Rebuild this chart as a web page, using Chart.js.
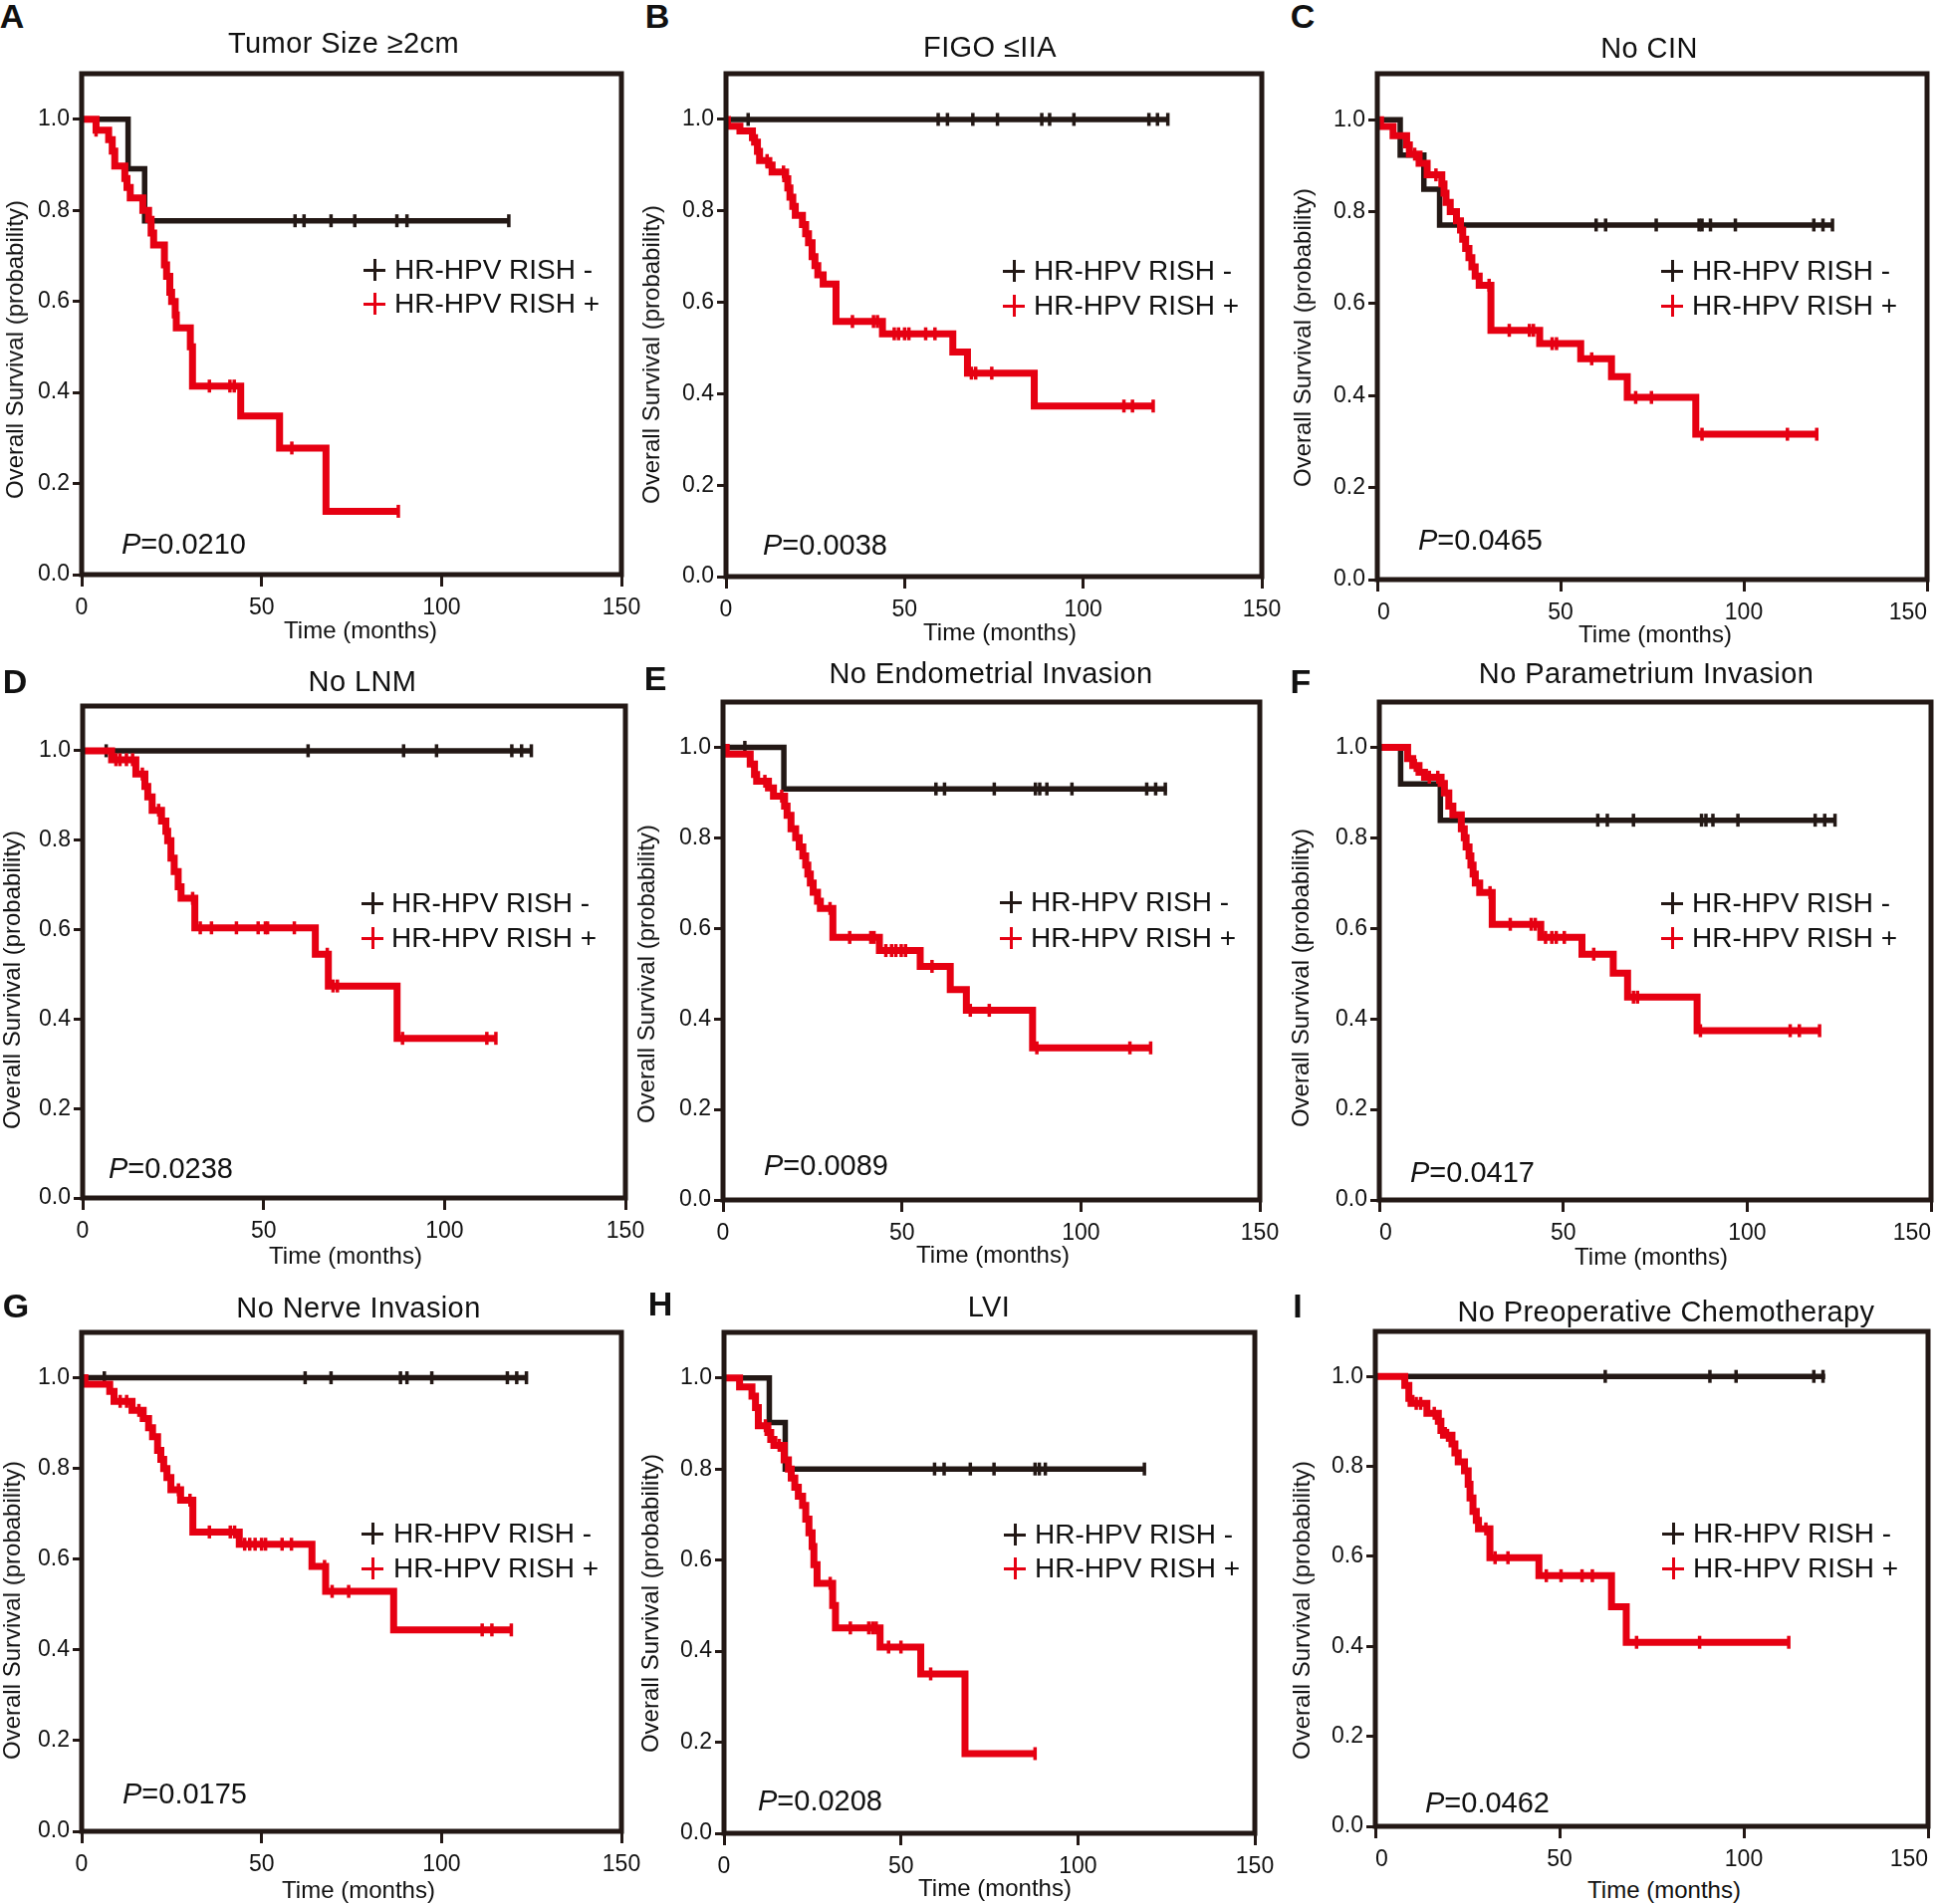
<!DOCTYPE html>
<html>
<head>
<meta charset="utf-8">
<script src="https://cdn.jsdelivr.net/npm/chart.js@4.4.1/dist/chart.umd.min.js"></script>
<style>
html, body { margin: 0; padding: 0; background: #fff; overflow: hidden; }
body { width: 1946px; height: 1912px; position: relative; font-family: "Liberation Sans", Arial, sans-serif; color: #111; }
canvas { position: absolute; }
.txt { position: absolute; white-space: nowrap; line-height: 1; }
.letter { font-weight: bold; font-size: 34px; transform: translate(-50%, -50%); }
.title { font-size: 29px; letter-spacing: 0.4px; transform: translate(-50%, -50%); }
.ytitle { font-size: 24px; transform: translate(-50%, -50%) rotate(-90deg); }
.xtitle { font-size: 24px; transform: translate(-50%, -50%); }
.leg { font-size: 28px; transform: translateY(-50%); }
.pval { font-size: 29px; transform: translateY(-50%); }
.plus { position: absolute; width: 22px; height: 22px; transform: translate(-50%, -50%); }
.plus::before, .plus::after { content: ''; position: absolute; background: currentColor; }
.plus::before { left: 0; right: 0; top: 10px; height: 2.5px; }
.plus::after { top: 0; bottom: 0; left: 10px; width: 2.5px; }
</style>
</head>
<body>
<script>
// ---- data: step times (months), survival, censor times ----
// "Neg" = HR-HPV RISH -, "Pos" = HR-HPV RISH +

// A  Tumor Size >=2cm
const aNegT = [0, 12.9, 17.5, 118.7];
const aNegS = [1.0, 0.891, 0.777, 0.777];
const aNegC = [59.3, 61.8, 69.3, 75.9, 87.6, 90.4, 118.7];
const aPosT = [0, 4, 7.5, 8.5, 9.2, 12, 12.6, 13.5, 17, 18.6, 19.3, 20, 23, 23.6, 24.5, 25, 26, 26.3, 30.2, 30.8, 44.2, 55, 67.9, 88];
const aPosS = [1.0, 0.976, 0.955, 0.93, 0.897, 0.87, 0.85, 0.827, 0.80, 0.78, 0.75, 0.724, 0.68, 0.655, 0.62, 0.60, 0.57, 0.542, 0.50, 0.414, 0.348, 0.278, 0.139, 0.139];
const aPosC = [4, 35.5, 41.2, 42.4, 58.4, 88];

// B  FIGO <=IIA
const bNegT = [0, 123.9];
const bNegS = [1.0, 1.0];
const bNegC = [6.2, 59.4, 62, 69.1, 76, 88.4, 90.6, 97.4, 118.4, 120.8, 123.7];
const bPosT = [0, 0.4, 3.9, 7.4, 8.0, 8.8, 9.4, 12.0, 12.9, 16.7, 17.3, 17.9, 18.7, 19.4, 21.4, 22.3, 23.1, 24.1, 24.9, 25.7, 27.2, 30.8, 43.8, 63.5, 67.6, 86.3, 119.6];
const bPosS = [1.0, 0.985, 0.975, 0.96, 0.95, 0.93, 0.91, 0.90, 0.885, 0.87, 0.85, 0.83, 0.81, 0.79, 0.77, 0.75, 0.73, 0.70, 0.68, 0.66, 0.64, 0.558, 0.531, 0.491, 0.445, 0.373, 0.373];
const bPosC = [11.5, 16.1, 35.4, 41.3, 42.4, 47.1, 48.3, 50.0, 51.2, 55.9, 58.5, 68.7, 69.9, 74.4, 111.4, 113.8, 119.6];

// C  No CIN
const cNegT = [0, 6.25, 12.7, 17.0, 124.4];
const cNegS = [1.0, 0.923, 0.849, 0.771, 0.771];
const cNegC = [59.7, 62.3, 76.1, 87.8, 88.6, 90.9, 97.7, 119.1, 121.6, 124.2];
const cPosT = [0, 0.9, 4.3, 8.0, 8.75, 11.4, 13.6, 17.6, 18.2, 18.75, 19.9, 21.6, 22.7, 23.3, 24.1, 25.0, 25.8, 26.7, 27.8, 31.0, 44.3, 55.5, 63.9, 68.2, 86.9, 119.9];
const cPosS = [1.0, 0.985, 0.965, 0.945, 0.925, 0.905, 0.88, 0.86, 0.84, 0.82, 0.80, 0.78, 0.76, 0.74, 0.72, 0.70, 0.68, 0.66, 0.64, 0.542, 0.513, 0.48, 0.441, 0.396, 0.316, 0.316];
const cPosC = [10.2, 16.0, 30.5, 36.0, 41.5, 42.6, 47.7, 48.9, 58.5, 70.5, 74.8, 88.6, 111.9, 119.9];

// D  No LNM
const dNegT = [0, 124.3];
const dNegS = [1.0, 1.0];
const dNegC = [6.5, 62.3, 88.7, 97.8, 118.6, 121.3, 124.0];
const dPosT = [0, 8.0, 14.7, 17.2, 18.0, 19.2, 21.8, 23.0, 23.5, 24.4, 25.3, 26.4, 27.2, 31.0, 64.3, 67.9, 86.9, 114.2];
const dPosS = [1.0, 0.98, 0.948, 0.92, 0.897, 0.867, 0.843, 0.82, 0.799, 0.76, 0.73, 0.696, 0.67, 0.604, 0.545, 0.474, 0.357, 0.357];
const dPosC = [9.2, 10.3, 12.1, 13.8, 16.5, 21.0, 30.4, 32.5, 35.6, 42.5, 48.5, 50.5, 51.1, 58.5, 67.6, 69.2, 70.4, 88.4, 111.7, 114.2];

// E  No Endometrial Invasion
const eNegT = [0, 17.0, 124.0];
const eNegS = [1.0, 0.908, 0.908];
const eNegC = [6.1, 59.5, 61.9, 75.8, 87.3, 88.5, 90.5, 97.5, 118.4, 120.9, 123.6];
const ePosT = [0, 0.9, 7.6, 8.8, 9.4, 12.7, 14.1, 17.2, 17.9, 19.0, 20.3, 21.3, 22.3, 23.1, 23.7, 24.4, 25.2, 26.4, 27.2, 30.7, 43.7, 55.1, 63.5, 68.0, 86.5, 119.8];
const ePosS = [1.0, 0.985, 0.963, 0.94, 0.925, 0.91, 0.892, 0.87, 0.85, 0.82, 0.80, 0.78, 0.76, 0.74, 0.72, 0.70, 0.68, 0.66, 0.644, 0.58, 0.551, 0.516, 0.465, 0.419, 0.336, 0.336];
const ePosC = [11.7, 16.4, 29.9, 35.4, 41.3, 42.2, 45.5, 47.1, 48.3, 49.8, 51.0, 58.4, 69.1, 74.4, 87.7, 113.7, 119.5];

// F  No Parametrium Invasion
const fNegT = [0, 5.8, 16.6, 124.2];
const fNegS = [1.0, 0.919, 0.839, 0.839];
const fNegC = [59.4, 62.0, 69.1, 87.6, 88.8, 90.7, 97.5, 118.5, 121.1, 123.9];
const fPosT = [0, 7.7, 9.1, 10.8, 12.3, 16.8, 17.7, 18.9, 20.0, 22.3, 23.1, 23.6, 24.4, 24.9, 25.5, 26.1, 27.3, 30.7, 43.9, 55.1, 63.6, 67.5, 86.4, 119.7];
const fPosS = [1.0, 0.975, 0.96, 0.945, 0.934, 0.92, 0.899, 0.87, 0.851, 0.82, 0.80, 0.78, 0.76, 0.74, 0.72, 0.70, 0.679, 0.609, 0.58, 0.543, 0.501, 0.448, 0.374, 0.374];
const fPosC = [9.8, 13.6, 15.9, 30.1, 35.6, 41.3, 42.4, 45.2, 46.9, 48.1, 50.3, 58.3, 69.1, 70.2, 87.3, 111.7, 114.2, 119.7];

// G  No Nerve Invasion
const gNegT = [0, 124.0];
const gNegS = [1.0, 1.0];
const gNegC = [6.3, 62.1, 69.3, 88.6, 90.4, 97.3, 118.3, 120.9, 123.6];
const gPosT = [0, 0.9, 7.8, 9.0, 14.0, 17.1, 18.6, 19.7, 21.1, 22.0, 22.8, 23.7, 24.8, 27.5, 30.9, 43.8, 64.0, 67.8, 86.7, 119.4];
const gPosS = [1.0, 0.986, 0.97, 0.948, 0.928, 0.91, 0.89, 0.87, 0.84, 0.82, 0.80, 0.78, 0.753, 0.73, 0.66, 0.633, 0.584, 0.529, 0.444, 0.444];
const gPosC = [10.7, 12.5, 15.9, 26.9, 30.1, 35.5, 41.3, 42.5, 45.3, 46.7, 48.2, 50.0, 51.1, 55.7, 58.3, 67.5, 69.6, 74.2, 111.3, 114.0, 119.4];

// H  LVI
const hNegT = [0, 12.8, 17.3, 119.1];
const hNegS = [1.0, 0.902, 0.80, 0.80];
const hNegC = [59.5, 62.2, 69.6, 76.3, 87.9, 89.1, 90.8, 118.8];
const hPosT = [0, 4.4, 7.9, 8.9, 9.7, 12.4, 13.2, 14.1, 17.0, 18.2, 19.0, 20.0, 21.0, 22.2, 23.1, 24.0, 24.9, 25.4, 26.3, 30.7, 31.5, 44.1, 55.6, 68.1, 87.9];
const hPosS = [1.0, 0.98, 0.96, 0.935, 0.895, 0.88, 0.865, 0.852, 0.82, 0.80, 0.78, 0.76, 0.74, 0.72, 0.69, 0.66, 0.63, 0.59, 0.549, 0.50, 0.451, 0.409, 0.35, 0.175, 0.175];
const hPosC = [11.7, 15.6, 30.0, 35.7, 40.9, 42.0, 43.0, 46.5, 50.0, 58.4, 87.9];

// I  No Preoperative Chemotherapy
const iNegT = [0, 122.1];
const iNegS = [1.0, 1.0];
const iNegC = [62.4, 90.8, 97.9, 119.0, 121.5];
const iPosT = [0, 8.0, 9.1, 9.7, 14.0, 17.1, 17.8, 18.5, 20.8, 21.6, 22.5, 24.2, 25.2, 25.7, 26.5, 27.4, 28.0, 31.1, 44.4, 64.1, 68.1, 112.2];
const iPosS = [1.0, 0.98, 0.951, 0.94, 0.918, 0.90, 0.88, 0.869, 0.85, 0.83, 0.81, 0.79, 0.76, 0.73, 0.70, 0.68, 0.661, 0.597, 0.557, 0.488, 0.409, 0.409];
const iPosC = [11.1, 12.3, 16.0, 19.6, 30.0, 32.5, 36.0, 46.4, 50.4, 56.1, 58.9, 70.9, 88.0, 112.2];

const panelLetters = ['A', 'B', 'C', 'D', 'E', 'F', 'G', 'H', 'I'];
const panelTitles = ['Tumor Size \u22652cm', 'FIGO \u2264IIA', 'No CIN', 'No LNM', 'No Endometrial Invasion',
  'No Parametrium Invasion', 'No Nerve Invasion', 'LVI', 'No Preoperative Chemotherapy'];
const pValues = ['0.0210', '0.0038', '0.0465', '0.0238', '0.0089', '0.0417', '0.0175', '0.0208', '0.0462'];
const seriesNames = ['HR-HPV RISH -', 'HR-HPV RISH +'];
const xTicks = [0, 50, 100, 150];
const yTicks = [0, 0.2, 0.4, 0.6, 0.8, 1.0];

const curves = [
  [aNegT, aNegS, aNegC, aPosT, aPosS, aPosC],
  [bNegT, bNegS, bNegC, bPosT, bPosS, bPosC],
  [cNegT, cNegS, cNegC, cPosT, cPosS, cPosC],
  [dNegT, dNegS, dNegC, dPosT, dPosS, dPosC],
  [eNegT, eNegS, eNegC, ePosT, ePosS, ePosC],
  [fNegT, fNegS, fNegC, fPosT, fPosS, fPosC],
  [gNegT, gNegS, gNegC, gPosT, gPosS, gPosC],
  [hNegT, hNegS, hNegC, hPosT, hPosS, hPosC],
  [iNegT, iNegS, iNegC, iPosT, iPosS, iPosC]
];

// ---- layout (page pixels) ----
// box: plot frame; letter/title/ytitle/xtitle centres; leg: plus centre x, text x, row y's; p: left, centre y
const layout = [
  { box: [82, 624, 74, 577],    letter: [12, 16],    title: [345, 43],    yt: [15, 351],   xt: [362, 633],   leg: [376, 396, 271, 305],    p: [122, 546] },
  { box: [729, 1267, 74, 579],  letter: [660, 16],   title: [994, 47],    yt: [654, 356],  xt: [1004, 635],  leg: [1018, 1038, 272, 307],  p: [766, 547] },
  { box: [1383, 1935, 74, 582], letter: [1308, 16],  title: [1656, 48],   yt: [1308, 339], xt: [1662, 637],  leg: [1679, 1699, 272, 307],  p: [1424, 542] },
  { box: [83, 628, 709, 1203],  letter: [15, 684],   title: [364, 684],   yt: [12, 984],   xt: [347, 1261],  leg: [374, 393, 907, 942],    p: [109, 1173] },
  { box: [726, 1265, 705, 1205], letter: [658, 681], title: [995, 676],   yt: [649, 978],  xt: [997, 1260],  leg: [1015, 1035, 906, 942],  p: [767, 1170] },
  { box: [1385, 1939, 705, 1205], letter: [1306, 684], title: [1653, 676], yt: [1306, 982], xt: [1658, 1262], leg: [1679, 1699, 907, 942], p: [1416, 1177] },
  { box: [82, 624, 1338, 1839], letter: [16, 1311],  title: [360, 1313],  yt: [12, 1617],  xt: [360, 1898],  leg: [374, 395, 1540, 1575],  p: [123, 1801] },
  { box: [727, 1260, 1338, 1841], letter: [663, 1309], title: [993, 1312], yt: [653, 1610], xt: [999, 1896], leg: [1019, 1039, 1541, 1575], p: [761, 1808] },
  { box: [1381, 1936, 1337, 1834], letter: [1303, 1311], title: [1673, 1317], yt: [1307, 1617], xt: [1671, 1898], leg: [1680, 1700, 1540, 1575], p: [1431, 1810] }
];

const INK = '#231815';
const RED = '#e60012';
const YW = 64, XH = 50, PAD_T = 18, PAD_R = 34;

Chart.defaults.font.family = '"Liberation Sans", Arial, sans-serif';
Chart.defaults.font.size = 23;
Chart.defaults.color = '#111';

function survAt(x, t, s) {
  let v = s[0];
  for (let i = 0; i < t.length; i++) if (t[i] <= x) v = s[i];
  return v;
}
const steps = (t, s) => t.map((x, i) => ({ x, y: s[i] }));
const marks = (c, t, s) => c.map(x => ({ x, y: survAt(x, t, s) }));

function addText(cls, x, y, html, color) {
  const d = document.createElement('div');
  d.className = 'txt ' + cls;
  d.style.left = x + 'px';
  d.style.top = y + 'px';
  if (color) d.style.color = color;
  d.innerHTML = html;
  document.body.appendChild(d);
}

const frame = {
  id: 'frame',
  afterDraw(chart) {
    const a = chart.chartArea, ctx = chart.ctx;
    ctx.save();
    ctx.strokeStyle = INK;
    ctx.lineWidth = 5;
    ctx.strokeRect(a.left, a.top, a.right - a.left, a.bottom - a.top);
    ctx.restore();
  }
};

layout.forEach((p, k) => {
  const [L, R, T, B] = p.box;
  const [negT, negS, negC, posT, posS, posC] = curves[k];
  const w = R - L + YW + PAD_R, h = B - T + PAD_T + XH;
  const cv = document.createElement('canvas');
  cv.width = w; cv.height = h;
  cv.style.left = (L - YW) + 'px';
  cv.style.top = (T - PAD_T) + 'px';
  cv.style.width = w + 'px';
  cv.style.height = h + 'px';
  document.body.appendChild(cv);

  const line = (data, color, width, order) => ({
    data, showLine: true, stepped: true, borderColor: color, borderWidth: width,
    borderCapStyle: 'butt', borderJoinStyle: 'miter', pointRadius: 0, order
  });
  const ticks = (data, color, order) => ({
    data, showLine: false, pointStyle: 'line', pointRotation: 90, pointRadius: 6.5,
    pointBorderColor: color, pointBorderWidth: 3.5, order
  });

  new Chart(cv, {
    type: 'scatter',
    data: {
      datasets: [
        line(steps(posT, posS), RED, 7, 0),
        ticks(marks(posC, posT, posS), RED, 0),
        line(steps(negT, negS), INK, 5.5, 1),
        ticks(marks(negC, negT, negS), INK, 1)
      ]
    },
    options: {
      responsive: false,
      devicePixelRatio: 1,
      animation: false,
      layout: { padding: { top: PAD_T, right: PAD_R, left: 0, bottom: 0 } },
      plugins: { legend: { display: false }, tooltip: { enabled: false } },
      scales: {
        x: {
          type: 'linear', min: 0, max: 150,
          afterFit: s => { s.height = XH; },
          afterBuildTicks: s => { s.ticks = xTicks.map(v => ({ value: v })); },
          grid: { drawOnChartArea: false, drawTicks: true, tickLength: 12, tickWidth: 3, color: INK },
          border: { display: false },
          ticks: { padding: 8, maxRotation: 0, align: k % 3 === 2 ? 'inner' : 'center', callback: v => String(v) }
        },
        y: {
          type: 'linear', min: 0, max: 1.1,
          afterFit: s => { s.width = YW; },
          afterBuildTicks: s => { s.ticks = yTicks.map(v => ({ value: v })); },
          grid: { drawOnChartArea: false, drawTicks: true, tickLength: 9, tickWidth: 3, color: INK },
          border: { display: false },
          ticks: { padding: 3, callback: v => v.toFixed(1) }
        }
      }
    },
    plugins: [frame]
  });

  addText('letter', p.letter[0], p.letter[1], panelLetters[k]);
  addText('title', p.title[0], p.title[1], panelTitles[k]);
  addText('ytitle', p.yt[0], p.yt[1], 'Overall Survival (probability)');
  addText('xtitle', p.xt[0], p.xt[1], 'Time (months)');
  addText('pval', p.p[0], p.p[1], '<i>P</i>=' + pValues[k]);

  const [px, tx, r1, r2] = p.leg;
  [[r1, INK], [r2, RED]].forEach(([ry, col], j) => {
    const plus = document.createElement('div');
    plus.className = 'plus';
    plus.style.left = px + 'px';
    plus.style.top = ry + 'px';
    plus.style.color = col;
    document.body.appendChild(plus);
    addText('leg', tx, ry, seriesNames[j]);
  });
});
</script>
</body>
</html>
